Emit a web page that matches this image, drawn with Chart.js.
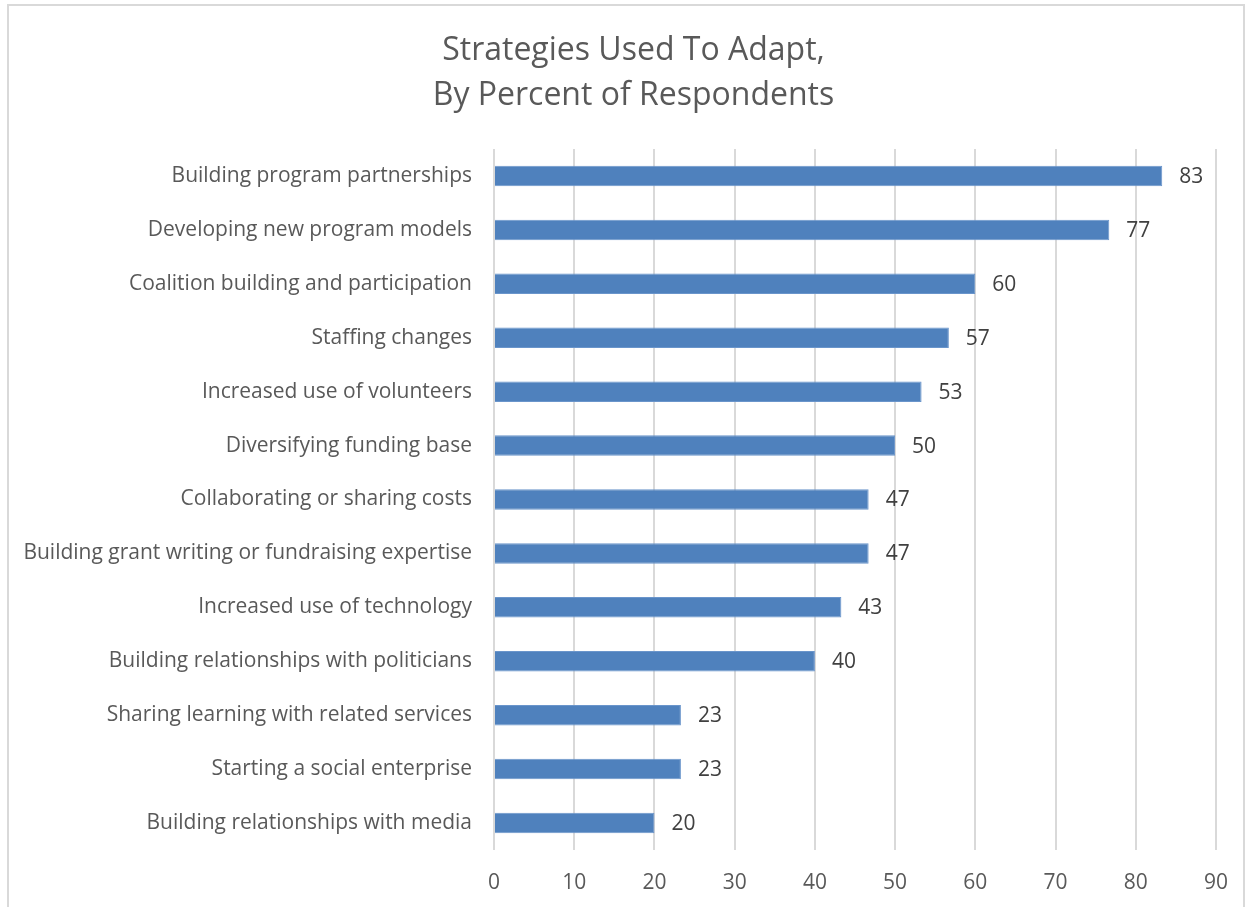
<!DOCTYPE html>
<html>
<head>
<meta charset="utf-8">
<script src="https://cdn.jsdelivr.net/npm/chart.js@4.4.1/dist/chart.umd.min.js"></script>
<style>
  html, body { margin: 0; padding: 0; background: #fff; }
  #wrap { position: relative; width: 1251px; height: 907px; }
  #frame { position: absolute; left: 7px; top: 4px; width: 1238px; height: 920px; border: 2px solid #d9d9d9; box-sizing: border-box; }
  canvas { position: absolute; left: 0; top: 0; }
</style>
</head>
<body>
<div id="wrap">
  <div id="frame"></div>
  <canvas id="barChart" width="1251" height="907"></canvas>
</div>
<script>
// 적응 전략 응답 비율 막대차트

const categories = [
    'Building program partnerships',
    'Developing new program models',
    'Coalition building and participation',
    'Staffing changes',
    'Increased use of volunteers',
    'Diversifying funding base',
    'Collaborating or sharing costs',
    'Building grant writing or fundraising expertise',
    'Increased use of technology',
    'Building relationships with politicians',
    'Sharing learning with related services',
    'Starting a social enterprise',
    'Building relationships with media'
];
const percents = [83.3, 76.7, 60, 56.7, 53.3, 50, 46.7, 46.7, 43.3, 40, 23.3, 23.3, 20];
const titleLines = ['Strategies Used To Adapt,', 'By Percent of Respondents'];

const FONT = "'Open Sans', 'Noto Sans', sans-serif";

// 제목 (캔버스 전체 폭 기준 가운데)
const centerTitle = {
    id: 'centerTitle',
    afterDraw(chart) {
        const ctx = chart.ctx;
        ctx.save();
        ctx.font = '32px ' + FONT;
        ctx.fillStyle = '#595959';
        ctx.textAlign = 'center';
        ctx.textBaseline = 'middle';
        titleLines.forEach((line, i) => {
            ctx.fillText(line, chart.width / 2 + 8, 51 + i * 45);
        });
        ctx.restore();
    }
};

// 막대 끝에 값 표시
const valueLabels = {
    id: 'valueLabels',
    afterDatasetsDraw(chart) {
        const ctx = chart.ctx;
        const meta = chart.getDatasetMeta(0);
        ctx.save();
        ctx.font = '21px ' + FONT;
        ctx.fillStyle = '#404040';
        ctx.textAlign = 'left';
        ctx.textBaseline = 'middle';
        meta.data.forEach((bar, i) => {
            ctx.fillText(Math.round(percents[i]), bar.x + 17, bar.y + 1);
        });
        ctx.restore();
    }
};

const chartE = document.getElementById('barChart');
const barChart = new Chart(chartE, {
    type: 'bar',
    data: {
        labels: categories,
        datasets: [{
            label: '',
            data: percents,
            backgroundColor: '#4f81bd',
            borderColor: '#6a95cb',
            borderWidth: 1,
            barPercentage: 0.76,
            categoryPercentage: 0.5
        }]
    },
    options: {
        indexAxis: 'y',
        responsive: false,
        animation: false,
        layout: {
            padding: { left: 0, right: 35, top: 149, bottom: 0 }
        },
        scales: {
            x: {
                min: 0,
                max: 90,
                ticks: {
                    stepSize: 10,
                    color: '#595959',
                    padding: 20,
                    font: { family: FONT, size: 21 }
                },
                grid: {
                    color: '#d9d9d9',
                    lineWidth: 2,
                    drawTicks: false
                },
                border: { display: false },
                afterFit(scale) { scale.height = 57; }
            },
            y: {
                ticks: {
                    color: '#595959',
                    padding: 22,
                    font: { family: FONT, size: 21 }
                },
                grid: { display: false, drawTicks: false },
                border: { display: false },
                afterFit(scale) { scale.width = 494; }
            }
        },
        plugins: {
            legend: { display: false },
            tooltip: { enabled: false },
            title: { display: false }
        }
    },
    plugins: [valueLabels, centerTitle]
});
</script>
</body>
</html>
